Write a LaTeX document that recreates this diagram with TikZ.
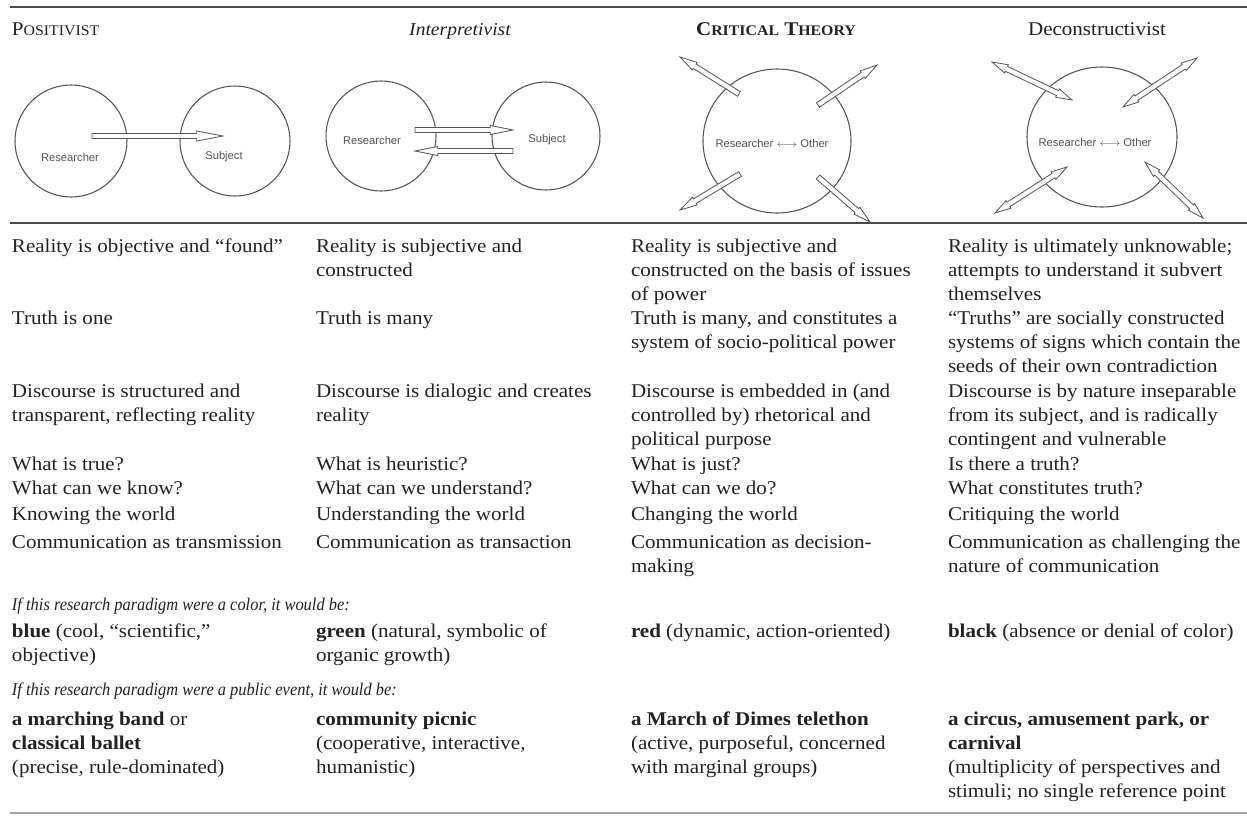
\documentclass[tikz,border=0pt]{standalone}
\usepackage{fontspec}
\setmainfont[FakeStretch=1.08]{Liberation Serif}
\newfontfamily\itfam[FakeStretch=0.92]{Liberation Serif}
\newfontfamily\labfont{Liberation Sans}
\usetikzlibrary{calc}
\definecolor{textc}{HTML}{222222}
\definecolor{rulec}{HTML}{4A4A4A}
\definecolor{linec}{HTML}{555555}
\definecolor{labc}{HTML}{555555}
\newcommand\lines[1]{\vtop{\halign{##\hfil\cr#1\crcr}}}
\newcommand\bodyfont{\fontsize{14.6}{18}\selectfont}
\newcommand\smcapA[2]{{\fontsize{14.6}{18}\selectfont #1}{\fontsize{11}{18}\selectfont #2}}
\newcommand\arrowone[5]{%
  \coordinate (hb) at ($(#2)!#3!(#1)$);
  \draw[hollow] ($(#1)!#4!90:(#2)$) -- ($(hb)!#4!-90:(#1)$) -- ($(hb)!#5!-90:(#1)$) -- (#2)
    -- ($(hb)!#5!90:(#1)$) -- ($(hb)!#4!90:(#1)$) -- ($(#1)!#4!-90:(#2)$) -- cycle;}
\newcommand\arrowtwo[5]{%
  \coordinate (hbA) at ($(#1)!#3!(#2)$);
  \coordinate (hbB) at ($(#2)!#3!(#1)$);
  \draw[hollow] (#1) -- ($(hbA)!#5!90:(#2)$) -- ($(hbA)!#4!90:(#2)$) -- ($(hbB)!#4!-90:(#1)$)
    -- ($(hbB)!#5!-90:(#1)$) -- (#2) -- ($(hbB)!#5!90:(#1)$) -- ($(hbB)!#4!90:(#1)$)
    -- ($(hbA)!#4!-90:(#2)$) -- ($(hbA)!#5!-90:(#2)$) -- cycle;}
\tikzset{
  cell/.style={anchor=base west, inner sep=0pt, outer sep=0pt, text=textc, font=\bodyfont},
  itcell/.style={cell, font=\itfam\fontsize{13.4}{16}\selectfont\itshape},
  head/.style={anchor=base, inner sep=0pt, text=textc, font=\bodyfont},
  rulel/.style={draw=rulec, line width=1.6pt},
  circ/.style={draw=linec, line width=0.8pt},
  hollow/.style={draw=linec, fill=white, line width=0.6pt, line join=miter},
  lab/.style={inner sep=0pt, text=labc, font=\labfont\fontsize{8.4}{10}\selectfont},
}
\begin{document}
\begin{tikzpicture}[x=0.75pt, y=-0.75pt]
\useasboundingbox (0,0) rectangle (1247,815);
% rules
\draw[rulel] (10,7) -- (1247,7);
\draw[rulel] (10,223) -- (1247,223);
\draw[draw=rulec!50, line width=0.8pt] (10,813) -- (1247,813);

% headings
\node[cell] (h1) at (12,35) {\smcapA{P}{OSITIVIST}};
\node[head, font=\fontsize{13.6}{18}\selectfont\itshape] (h2) at (460,35) {Interpretivist};
\node[head] (h3) at (776,35) {\bfseries\smcapA{C}{RITICAL} \smcapA{T}{HEORY}};
\node[head] (h4) at (1097,35) {Deconstructivist};

% ---- Positivist diagram
\draw[circ] (71,141) circle[radius=56];
\draw[circ] (235,141) circle[radius=55];
\node[lab] (p1) at (70,157) {Researcher};
\node[lab] (p2) at (224,157) {Subject};
\coordinate (pa1) at (92,136);
\coordinate (pa2) at (223,136);
\arrowone{pa1}{pa2}{20pt}{1.9pt}{3.8pt}

% ---- Interpretivist diagram
\draw[circ] (381,136) circle[radius=55];
\draw[circ] (546,136) circle[radius=54];
\node[lab] (i1) at (372,140) {Researcher};
\node[lab] (i2) at (547,140) {Subject};
\coordinate (ia1) at (415,130);
\coordinate (ia2) at (513,130);
\coordinate (ib1) at (513,151);
\coordinate (ib2) at (415,151);
\arrowone{ia1}{ia2}{17pt}{1.9pt}{3.4pt}
\arrowone{ib1}{ib2}{17pt}{1.9pt}{3.4pt}

% ---- Critical theory diagram
\draw[circ] (777,141) ellipse[x radius=74, y radius=72];
\node[lab] (c1) at (772,143) {Researcher $\longleftrightarrow$ Other};
\coordinate (ct1) at (739,94);  \coordinate (ch1) at (680,57);
\coordinate (ct2) at (818,105); \coordinate (ch2) at (877,65);
\coordinate (ct3) at (740,174); \coordinate (ch3) at (680,210);
\coordinate (ct4) at (818,177); \coordinate (ch4) at (870,222);
\arrowone{ct1}{ch1}{13pt}{2pt}{3.4pt}
\arrowone{ct2}{ch2}{13pt}{2pt}{3.4pt}
\arrowone{ct3}{ch3}{13pt}{2pt}{3.4pt}
\arrowone{ct4}{ch4}{13pt}{2pt}{3.4pt}

% ---- Deconstructivist diagram
\draw[circ] (1102,137) ellipse[x radius=75, y radius=70];
\node[lab] (d1) at (1095,142) {Researcher $\longleftrightarrow$ Other};
\coordinate (dt1) at (1072,100); \coordinate (dh1) at (992,62);
\coordinate (dt2) at (1123,107); \coordinate (dh2) at (1197,58);
\coordinate (dt3) at (1067,167); \coordinate (dh3) at (995,213);
\coordinate (dt4) at (1145,162); \coordinate (dh4) at (1203,218);
\arrowtwo{dt1}{dh1}{12pt}{2pt}{3.4pt}
\arrowtwo{dt2}{dh2}{12pt}{2pt}{3.4pt}
\arrowtwo{dt3}{dh3}{12pt}{2pt}{3.4pt}
\arrowtwo{dt4}{dh4}{12pt}{2pt}{3.4pt}

% ---- Column 1
\node[cell] (a1) at (12,252) {Reality is objective and “found”};
\node[cell] (a2) at (12,324) {Truth is one};
\node[cell] (a3) at (12,397) {\lines{Discourse is structured and\cr transparent, reflecting reality}};
\node[cell] (a4) at (12,470) {What is true?};
\node[cell] (a5) at (12,494) {What can we know?};
\node[cell] (a6) at (12,520) {Knowing the world};
\node[cell] (a7) at (12,548) {Communication as transmission};
\node[itcell] (it1) at (12,610) {If this research paradigm were a color, it would be:};
\node[cell] (a8) at (12,637) {\lines{\textbf{blue} (cool, “scientific,”\cr objective)}};
\node[itcell] (it2) at (12,695) {If this research paradigm were a public event, it would be:};
\node[cell] (a9) at (12,725) {\lines{\textbf{a marching band} or\cr \textbf{classical ballet}\cr (precise, rule-dominated)}};

% ---- Column 2
\node[cell] (b1) at (316,252) {\lines{Reality is subjective and\cr constructed}};
\node[cell] (b2) at (316,324) {Truth is many};
\node[cell] (b3) at (316,397) {\lines{Discourse is dialogic and creates\cr reality}};
\node[cell] (b4) at (316,470) {What is heuristic?};
\node[cell] (b5) at (316,494) {What can we understand?};
\node[cell] (b6) at (316,520) {Understanding the world};
\node[cell] (b7) at (316,548) {Communication as transaction};
\node[cell] (b8) at (316,637) {\lines{\textbf{green} (natural, symbolic of\cr organic growth)}};
\node[cell] (b9) at (316,725) {\lines{\textbf{community picnic}\cr (cooperative, interactive,\cr humanistic)}};

% ---- Column 3
\node[cell] (c11) at (631,252) {\lines{Reality is subjective and\cr constructed on the basis of issues\cr of power}};
\node[cell] (c12) at (631,324) {\lines{Truth is many, and constitutes a\cr system of socio-political power}};
\node[cell] (c13) at (631,397) {\lines{Discourse is embedded in (and\cr controlled by) rhetorical and\cr political purpose}};
\node[cell] (c14) at (631,470) {What is just?};
\node[cell] (c15) at (631,494) {What can we do?};
\node[cell] (c16) at (631,520) {Changing the world};
\node[cell] (c17) at (631,548) {\lines{Communication as decision-\cr making}};
\node[cell] (c18) at (631,637) {\textbf{red} (dynamic, action-oriented)};
\node[cell] (c19) at (631,725) {\lines{\textbf{a March of Dimes telethon}\cr (active, purposeful, concerned\cr with marginal groups)}};

% ---- Column 4
\node[cell] (e1) at (948,252) {\lines{Reality is ultimately unknowable;\cr attempts to understand it subvert\cr themselves}};
\node[cell] (e2) at (948,324) {\lines{“Truths” are socially constructed\cr systems of signs which contain the\cr seeds of their own contradiction}};
\node[cell] (e3) at (948,397) {\lines{Discourse is by nature inseparable\cr from its subject, and is radically\cr contingent and vulnerable}};
\node[cell] (e4) at (948,470) {Is there a truth?};
\node[cell] (e5) at (948,494) {What constitutes truth?};
\node[cell] (e6) at (948,520) {Critiquing the world};
\node[cell] (e7) at (948,548) {\lines{Communication as challenging the\cr nature of communication}};
\node[cell] (e8) at (948,637) {\textbf{black} (absence or denial of color)};
\node[cell] (e9) at (948,725) {\lines{\textbf{a circus, amusement park, or}\cr \textbf{carnival}\cr (multiplicity of perspectives and\cr stimuli; no single reference point}};
\end{tikzpicture}
\end{document}
